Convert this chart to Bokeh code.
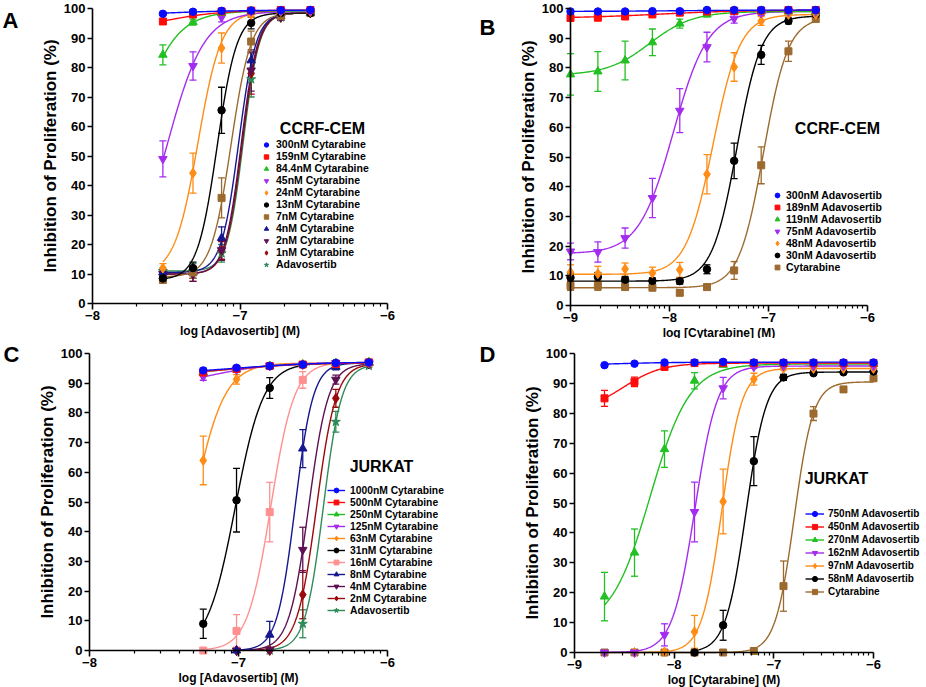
import numpy as np
from bokeh.plotting import figure
from bokeh.models import (ColumnDataSource, FixedTicker, Legend, LegendItem, Label,
                          Whisker, TeeHead, Range1d)
from bokeh.layouts import column, row
from bokeh.embed import file_html
from bokeh.resources import INLINE

nan = float("nan")
FONT = "Liberation Sans"

# ---------------- Panel A : CCRF-CEM, Adavosertib dose series ----------------
A_conc_nM = [30, 48, 75, 119, 189, 300]
A_labels = ["300nM Cytarabine", "159nM Cytarabine", "84.4nM Cytarabine", "45nM Cytarabine",
            "24nM Cytarabine", "13nM Cytarabine", "7nM Cytarabine", "4nM Cytarabine",
            "2nM Cytarabine", "1nM Cytarabine", "Adavosertib"]
A_mean = [
    [98.2, 98.9, 99.2, 99.3, 99.4, 99.5],
    [95.6, 98.0, 99.0, 99.3, 99.5, 99.5],
    [84.3, 95.4, 98.5, 99.0, 99.2, 99.2],
    [49.0, 80.5, 97.0, 99.0, 99.2, 99.2],
    [12.0, 44.2, 86.6, 98.0, 99.0, 99.0],
    [8.5, 12.0, 65.5, 95.1, 98.5, 98.5],
    [8.0, 10.5, 35.8, 88.8, 97.5, 98.5],
    [10.5, 10.5, 22.2, 82.4, 97.5, 98.5],
    [10.0, 10.0, 18.1, 79.0, 97.0, 98.5],
    [10.0, 10.0, 18.0, 78.0, 97.0, 98.5],
    [11.0, 11.0, 17.0, 76.0, 97.0, 98.5],
]
A_sem = [
    [0.5, 0.5, 0.5, 0.5, 0.5, 0.5],
    [0.8, 0.5, 0.5, 0.5, 0.5, 0.5],
    [3.4, 1.0, 0.6, 0.5, 0.5, 0.5],
    [6.1, 4.8, 1.5, 0.5, 0.5, 0.5],
    [1.5, 6.8, 5.1, 0.8, 0.5, 0.5],
    [1.0, 2.0, 7.8, 2.0, 0.5, 0.5],
    [1.0, 2.0, 6.8, 3.5, 1.0, 0.5],
    [1.0, 2.0, 3.8, 3.0, 1.0, 0.5],
    [1.0, 2.5, 3.5, 7.0, 1.0, 0.5],
    [1.0, 2.5, 3.0, 7.0, 1.0, 0.5],
    [1.0, 2.5, 3.0, 6.0, 1.0, 0.5],
]
A_bottom = [97.0, 92.0, 0.0, 10.0, 10.0, 8.0, 9.0, 10.5, 10.0, 10.0, 11.0]
A_top = [99.5, 99.5, 99.2, 99.0, 99.0, 98.5, 98.5, 98.5, 98.5, 98.5, 98.5]
A_logec50 = [-7.6, -7.52, -7.75, -7.49, -7.285, -7.155, -7.061, -7.009, -6.991, -6.985, -6.978]
A_hill = [1.5, 2.2, 3.2, 3.5, 5.5, 6.5, 6.4, 7.4, 7.8, 7.8, 8.0]

# ---------------- Panel B : CCRF-CEM, Cytarabine dose series ----------------
B_conc_nM = [1, 1.89, 3.56, 6.72, 12.7, 23.9, 45, 84.4, 159, 300]
B_labels = ["300nM Adavosertib", "189nM Adavosertib", "119nM Adavosertib", "75nM Adavosertib",
            "48nM Adavosertib", "30nM Adavosertib", "Cytarabine"]
B_mean = [
    [99.0, 99.0, 99.0, 99.1, 99.1, 99.5, 99.5, 99.5, 99.5, 99.5],
    [96.8, 96.9, 97.3, 98.0, 98.6, 99.0, 99.2, 99.3, 99.5, 99.5],
    [77.8, 78.8, 82.5, 88.6, 94.9, 98.0, 99.0, 99.0, 99.0, 99.0],
    [18.2, 18.0, 22.7, 36.2, 65.6, 87.0, 96.6, 98.5, 99.0, 99.0],
    [11.2, 10.7, 12.3, 10.9, 12.0, 44.2, 80.3, 95.8, 98.0, 98.0],
    [9.4, 9.6, 8.7, 8.3, 8.2, 12.2, 48.7, 84.4, 95.8, 98.0],
    [6.6, 6.6, 6.2, 6.0, 4.3, 6.2, 11.8, 47.2, 85.6, 96.5],
]
B_sem = [
    [0.4] * 10,
    [0.6] * 10,
    [7.0, 6.7, 6.5, 4.5, 1.5, 0.8, 0.5, 0.5, 0.5, 0.5],
    [2.8, 3.4, 3.4, 6.6, 7.4, 5.0, 1.5, 0.8, 0.5, 0.5],
    [2.5, 2.5, 2.0, 2.0, 2.5, 6.6, 4.8, 1.5, 0.5, 0.5],
    [1.5, 1.5, 1.0, 1.0, 1.0, 1.5, 6.0, 3.2, 1.0, 0.5],
    [1.5, 1.5, 1.0, 1.0, 1.0, 1.0, 3.0, 6.2, 3.4, 1.0],
]
B_bottom = [99.0, 96.7, 77.5, 17.5, 10.5, 8.2, 6.0]
B_top = [99.5, 99.5, 99.0, 99.0, 98.0, 97.5, 97.0]
B_logec50 = [-7.9, -8.1, -8.2, -7.962, -7.56, -7.32, -7.05]
B_hill = [1.0, 1.0, 2.0, 2.5, 3.2, 3.5, 3.5]

# ---------------- Panel C : JURKAT, Adavosertib dose series ----------------
C_conc_nM = [58, 97, 162, 270, 450, 750]
C_labels = ["1000nM Cytarabine", "500nM Cytarabine", "250nM Cytarabine", "125nM Cytarabine",
            "63nM Cytarabine", "31nM Cytarabine", "16nM Cytarabine", "8nM Cytarabine",
            "4nM Cytarabine", "2nM Cytarabine", "Adavosertib"]
C_mean = [
    [94.3, 95.2, 95.8, 96.3, 96.8, 97.0],
    [93.6, 94.8, 95.8, 96.3, 96.5, 97.0],
    [93.5, 94.6, 95.8, 96.3, 96.8, 97.0],
    [92.2, 94.5, 95.8, 96.3, 96.8, 97.0],
    [64.0, 91.3, 95.8, 96.3, 96.8, 97.0],
    [9.0, 50.6, 88.4, 96.2, 96.8, 97.0],
    [0.0, 6.6, 46.6, 91.1, 96.5, 97.0],
    [nan, 0.0, 5.3, 68.0, 95.5, 96.8],
    [nan, 0.0, 0.3, 33.9, 91.2, 96.5],
    [nan, 0.0, 0.0, 18.8, 84.9, 96.5],
    [nan, nan, 0.0, 9.0, 77.0, 95.8],
]
C_sem = [
    [0.8, 0.6, 0.5, 0.5, 0.5, 0.5],
    [0.6, 0.6, 0.5, 0.5, 0.5, 0.5],
    [0.6, 0.6, 0.5, 0.5, 0.5, 0.5],
    [1.2, 0.6, 0.5, 0.5, 0.5, 0.5],
    [8.2, 1.6, 0.5, 0.5, 0.5, 0.5],
    [4.9, 10.7, 3.5, 0.5, 0.5, 0.5],
    [0.0, 5.5, 10.0, 2.8, 0.5, 0.5],
    [nan, 0.0, 4.5, 6.4, 1.0, 0.5],
    [nan, 0.0, 0.5, 7.6, 1.5, 0.5],
    [nan, 0.0, 0.0, 8.1, 3.0, 0.5],
    [nan, nan, 0.0, 4.7, 3.5, 0.5],
]
C_bottom = [93.0, 92.0, 92.0, 88.0, 0.0, 0.0, 0.0, 0.0, 0.0, 0.0, 0.0]
C_top = [97.2, 97.0, 97.0, 97.0, 96.8, 96.8, 97.0, 96.8, 96.6, 96.6, 96.3]
C_logec50 = [-7.0, -7.1, -7.1, -7.2, -7.307, -7.021, -6.783, -6.62, -6.529, -6.476, -6.431]
C_hill = [1.5, 1.5, 1.6, 2.0, 4.15, 4.6, 5.5, 7.2, 6.6, 6.6, 7.1]

# ---------------- Panel D : JURKAT, Cytarabine dose series ----------------
D_conc_nM = [2, 4, 8, 16, 31, 63, 125, 250, 500, 1000]
D_labels = ["750nM Adavosertib", "450nM Adavosertib", "270nM Adavosertib", "162nM Adavosertib",
            "97nM Adavosertib", "58nM Adavosertib", "Cytarabine"]
D_mean = [
    [96.1, 96.6, 97.0, 97.0, 97.2, 97.0, 97.0, 97.0, 97.0, 97.0],
    [85.0, 90.5, 95.5, 96.8, 96.8, 96.8, 96.8, 96.8, 96.8, 96.8],
    [18.7, 33.4, 68.0, 90.9, 96.2, 96.5, 96.5, 96.5, 96.5, 96.5],
    [0.0, 0.0, 5.9, 47.0, 88.4, 95.5, 95.8, 95.8, 95.8, 95.8],
    [nan, 0.0, 0.2, 6.9, 50.5, 91.4, 95.0, 95.0, 95.0, 95.0],
    [nan, nan, nan, 0.0, 9.1, 64.0, 92.0, 93.4, 93.7, 94.0],
    [0.0, 0.0, 0.0, 0.0, 0.0, 0.5, 22.2, 79.9, 88.0, 91.7],
]
D_sem = [
    [0.4] * 10,
    [2.7, 1.6, 1.0, 0.5, 0.5, 0.5, 0.5, 0.5, 0.5, 0.5],
    [8.1, 7.9, 6.1, 2.7, 0.5, 0.5, 0.5, 0.5, 0.5, 0.5],
    [0.0, 0.0, 3.7, 10.0, 3.6, 0.5, 0.5, 0.5, 0.5, 0.5],
    [nan, 0.0, 0.0, 5.5, 10.8, 2.0, 0.5, 0.5, 0.5, 0.5],
    [nan, nan, nan, 0.0, 5.0, 8.2, 1.0, 0.5, 0.5, 0.5],
    [0.0, 0.0, 0.0, 0.0, 0.0, 0.0, 8.4, 2.3, 0.5, 0.5],
]
D_bottom = [96.0, 81.0, 8.0, 0.0, 0.0, 0.0, 0.0]
D_top = [97.1, 96.8, 96.5, 95.8, 95.0, 93.8, 90.5]
D_logec50 = [-8.6, -8.5, -8.24, -7.792, -7.522, -7.279, -6.795]
D_hill = [1.5, 2.3, 2.2, 3.83, 4.33, 4.24, 4.56]

# ---------------- styles ----------------
BLUE, RED, GREEN, PURPLE, ORANGE, BLACK = "#0a0aff", "#ff0a0a", "#22c022", "#a42cf0", "#ff8c14", "#000000"
BROWN, NAVY, DPURPLE, DRED, TEAL, PINK = "#9c6a2e", "#16168f", "#5e1052", "#9a0a0a", "#2e8b57", "#ff9090"

STYLE_A = list(zip([BLUE, RED, GREEN, PURPLE, ORANGE, BLACK, BROWN, NAVY, DPURPLE, DRED, TEAL],
                   ["circle", "square", "triangle", "inverted_triangle", "diamond", "circle",
                    "square", "triangle", "inverted_triangle", "diamond", "star"]))
STYLE_B = list(zip([BLUE, RED, GREEN, PURPLE, ORANGE, BLACK, BROWN],
                   ["circle", "square", "triangle", "inverted_triangle", "diamond", "circle", "square"]))
STYLE_C = list(zip([BLUE, RED, GREEN, PURPLE, ORANGE, BLACK, PINK, NAVY, DPURPLE, DRED, TEAL],
                   ["circle", "square", "triangle", "inverted_triangle", "diamond", "circle",
                    "square", "triangle", "inverted_triangle", "diamond", "star"]))
SIZES = {"circle": 7.5, "square": 7, "triangle": 8.5, "inverted_triangle": 8.5, "diamond": 10, "star": 9.5}


def minor_log(lo, hi):
    out = []
    for d in range(lo, hi):
        out += [d + np.log10(k) for k in range(2, 10)]
    return out


def build(conc, labels, means, sems, bots, tops, ec50s, hills, styles, xr, xlabel,
          geom, title, title_xy, letter, letter_xy, leg):
    # geom: figure size and pixel positions (in the figure) of xmin, xmax, y=0, y=100
    w, h, x0px, x1px, y0px, y100px = geom
    xmin, xmax = xr
    sx = (x1px - x0px) / (xmax - xmin)
    sy = (y0px - y100px) / 100.0
    p = figure(width=w, height=h,
               x_range=Range1d(xmin - x0px / sx, xmin + (w - x0px) / sx),
               y_range=Range1d(-(h - y0px) / sy, 100 + y100px / sy),
               output_backend="svg", toolbar_location=None,
               min_border_left=0, min_border_right=0, min_border_top=0, min_border_bottom=0)
    p.outline_line_color = None
    p.xgrid.visible = False
    p.ygrid.visible = False

    x = np.log10(np.array(conc, dtype=float) * 1e-9)
    n = len(labels)
    curves, dots = [None] * n, [None] * n
    for i in reversed(range(n)):
        c, m = styles[i]
        y = np.array(means[i], dtype=float)
        ok = ~np.isnan(y)
        xs = np.linspace(x[ok].min(), x[ok].max(), 300)
        ys = bots[i] + (tops[i] - bots[i]) / (1 + 10 ** (hills[i] * (ec50s[i] - xs)))
        curves[i] = p.line(xs, ys, line_color=c, line_width=1.4)
    for i in reversed(range(n)):
        c, m = styles[i]
        y = np.array(means[i], dtype=float)
        s = np.array(sems[i], dtype=float)
        ok = (~np.isnan(y)) & (~np.isnan(s)) & (s > 0)
        src = ColumnDataSource(dict(x=x[ok], lo=y[ok] - s[ok], hi=y[ok] + s[ok]))
        wk = Whisker(source=src, base="x", lower="lo", upper="hi", dimension="height",
                     line_color=c, line_width=1.3, level="underlay",
                     upper_head=TeeHead(size=7, line_color=c, line_width=1.3),
                     lower_head=TeeHead(size=7, line_color=c, line_width=1.3))
        p.add_layout(wk)
    for i in reversed(range(n)):
        c, m = styles[i]
        y = np.array(means[i], dtype=float)
        src = ColumnDataSource(dict(x=x, y=y))
        dots[i] = p.scatter("x", "y", source=src, marker=m, size=SIZES[m],
                            fill_color=c, line_color=c, line_width=1)

    # axes (kept in their side panels, pinned to the data origin)
    p.xaxis.ticker = FixedTicker(ticks=list(range(xmin, xmax + 1)), minor_ticks=minor_log(xmin, xmax))
    p.yaxis.ticker = FixedTicker(ticks=list(range(0, 101, 10)), minor_ticks=[])
    p.xaxis.bounds = (xmin, xmax)
    p.yaxis.bounds = (0, 100)
    p.xaxis.fixed_location = 0
    p.yaxis.fixed_location = xmin
    for ax in (p.xaxis[0], p.yaxis[0]):
        ax.axis_line_width = 1.6
        ax.axis_line_color = "black"
        ax.major_tick_line_width = 1.6
        ax.major_tick_line_color = "black"
        ax.minor_tick_line_width = 1.2
        ax.minor_tick_line_color = "black"
        ax.major_tick_in = 0
        ax.minor_tick_in = 0
        ax.major_label_text_font = FONT
        ax.major_label_text_font_style = "bold"
        ax.major_label_text_font_size = "13px"
        ax.major_label_text_color = "black"
        ax.major_label_text_line_height = 1.0
        ax.axis_label_text_font = FONT
        ax.axis_label_text_font_style = "bold"
        ax.axis_label_text_color = "black"
        ax.axis_label_text_line_height = 1.0
    p.xaxis.major_tick_out = 6
    p.xaxis.minor_tick_out = 3
    p.yaxis.major_tick_out = 5
    p.xaxis.major_label_standoff = 1
    p.yaxis.major_label_standoff = 2
    p.xaxis.axis_label = xlabel
    p.xaxis.axis_label_text_font_size = "12px"
    p.xaxis.axis_label_standoff = 1
    p.yaxis.axis_label = "Inhibition of Proliferation (%)"
    p.yaxis.axis_label_text_font_size = "17px"
    p.yaxis.axis_label_standoff = 1

    # legend
    items = []
    for i in range(n):
        rs = [curves[i], dots[i]] if leg["lines"] else [dots[i]]
        items.append(LegendItem(label=labels[i], renderers=rs))
    L = Legend(items=items, location=leg["loc"], orientation="vertical",
               label_text_font=FONT, label_text_font_style="bold",
               label_text_font_size=leg["font"], label_text_color="black",
               label_text_line_height=1.0,
               glyph_width=leg["gw"], glyph_height=leg["rh"], label_height=leg["rh"],
               label_standoff=leg["standoff"], spacing=0, padding=0, margin=0,
               background_fill_alpha=0, border_line_color=None)
    p.add_layout(L)

    p.add_layout(Label(x=title_xy[0], y=title_xy[1], x_units="screen", y_units="screen",
                       text=title, text_font=FONT, text_font_style="bold", text_font_size="16px",
                       text_align="center", text_baseline="middle", text_color="black"))
    p.add_layout(Label(x=letter_xy[0], y=letter_xy[1], x_units="screen", y_units="screen",
                       text=letter, text_font=FONT, text_font_style="bold", text_font_size="22px",
                       text_align="left", text_baseline="alphabetic", text_color="black"))
    return p


pA = build(A_conc_nM, A_labels, A_mean, A_sem, A_bottom, A_top, A_logec50, A_hill, STYLE_A,
           (-8, -6), "log [Adavosertib] (M)", (463, 338, 92, 387, 303, 8),
           "CCRF-CEM", (322, 210), "A", (2, 318),
           dict(lines=False, loc=(260, 68), font="10.5px", gw=12, rh=11, standoff=4))
pB = build(B_conc_nM, B_labels, B_mean, B_sem, B_bottom, B_top, B_logec50, B_hill, STYLE_B,
           (-9, -6), "log [Cytarabine] (M)", (463, 338, 107, 404, 305, 8),
           "CCRF-CEM", (374, 210), "B", (16, 311),
           dict(lines=False, loc=(308, 65), font="10.5px", gw=12, rh=12, standoff=3))
pC = build(C_conc_nM, C_labels, C_mean, C_sem, C_bottom, C_top, C_logec50, C_hill, STYLE_C,
           (-8, -6), "log [Adavosertib] (M)", (463, 349, 89, 387, 312, 15),
           "JURKAT", (381, 221), "C", (3, 333),
           dict(lines=True, loc=(327, 71), font="10.3px", gw=18, rh=12, standoff=5))
pD = build(D_conc_nM, D_labels, D_mean, D_sem, D_bottom, D_top, D_logec50, D_hill, STYLE_B,
           (-9, -6), "log [Cytarabine] (M)", (463, 349, 111, 410, 314, 15),
           "JURKAT", (373, 209), "D", (16, 333),
           dict(lines=True, loc=(342, 89), font="10px", gw=19, rh=13, standoff=4))

layout = column(row(pA, pB), row(pC, pD))
open("out.html", "w").write(file_html(layout, INLINE))
